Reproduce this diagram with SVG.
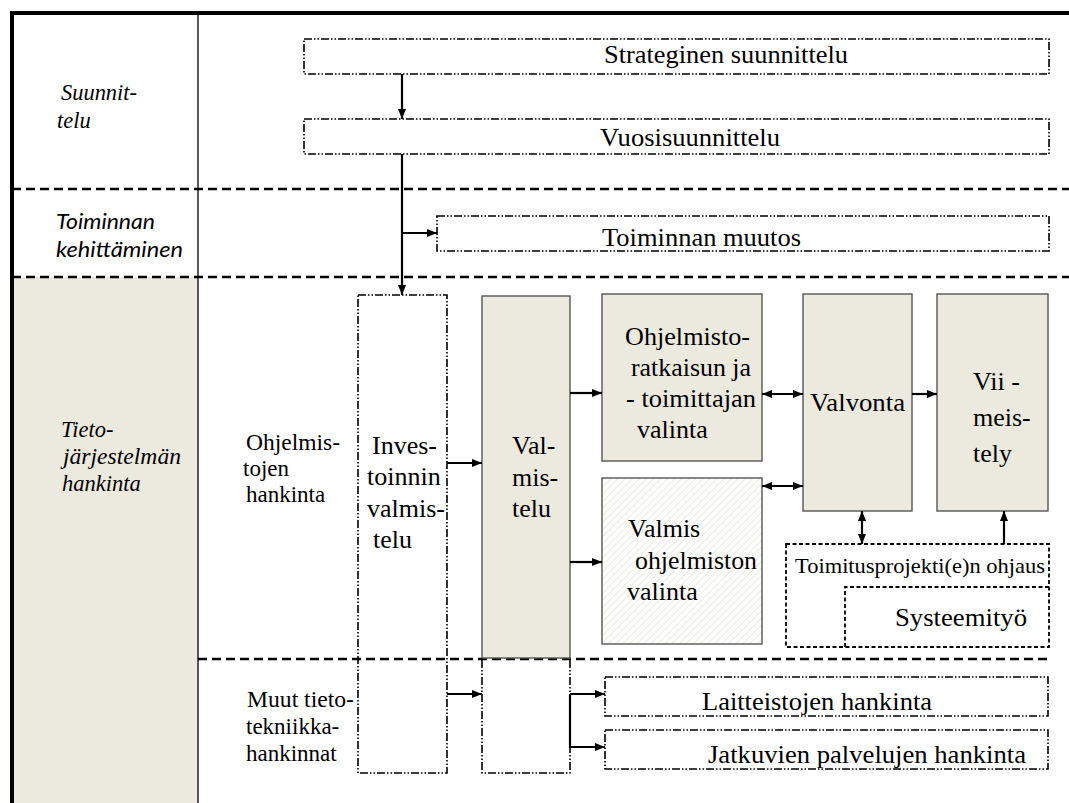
<svg xmlns="http://www.w3.org/2000/svg" width="1069" height="803" viewBox="0 0 1069 803">
<defs>
<style>
text{fill:#000}
.t{font-family:'Liberation Serif','Times New Roman',serif;font-size:26px}
.it{font-style:italic;font-size:22.5px}
.sm{font-size:23px}
.cal{font-family:Lato,'Open Sans',sans-serif;font-style:italic;font-size:21px}
.dd{fill:none;stroke:#000;stroke-width:1.6;stroke-dasharray:8 2 1.5 2 1.5 2}
.solid{fill:#ECE9DF;stroke:#555;stroke-width:1.4}
.sep{stroke:#000;stroke-width:2.5;stroke-dasharray:9 5;fill:none}
.sd{fill:none;stroke:#000;stroke-width:1.8;stroke-dasharray:4 2.5}
.arr{stroke:#000;stroke-width:2.2;fill:none;marker-end:url(#ah)}
.darr{stroke:#000;stroke-width:2.2;fill:none;marker-start:url(#ah);marker-end:url(#ah)}
</style>
<marker id="ah" viewBox="0 0 10 8" refX="10" refY="4" markerWidth="10" markerHeight="8" markerUnits="userSpaceOnUse" orient="auto-start-reverse"><path d="M0,0 L10,4 L0,8 z" fill="#000"/></marker>
<pattern id="hatch" patternUnits="userSpaceOnUse" width="5" height="5" patternTransform="rotate(45)"><line x1="0" y1="0" x2="0" y2="5" stroke="#DAD5C2" stroke-width="1"/></pattern>
</defs>

<g id="frame">
<rect x="12" y="277" width="186" height="526" fill="#ECE9DF"/>
<line x1="198" y1="13" x2="198" y2="803" stroke="#000" stroke-width="1.3"/>
<line x1="10" y1="13" x2="1069" y2="13" stroke="#000" stroke-width="4"/>
<line x1="12" y1="11" x2="12" y2="803" stroke="#000" stroke-width="4"/>
<line class="sep" x1="12" y1="189" x2="1069" y2="189"/>
<line class="sep" x1="12" y1="277" x2="1069" y2="277"/>
<line class="sep" x1="198" y1="659" x2="1048" y2="659"/>
</g>

<g id="lane-labels">
<text class="t it" x="61" y="100" textLength="76" lengthAdjust="spacingAndGlyphs">Suunnit-</text>
<text class="t it" x="57" y="128">telu</text>
<text class="cal" x="56" y="229" textLength="99" lengthAdjust="spacingAndGlyphs">Toiminnan</text>
<text class="cal" x="56" y="257" textLength="127" lengthAdjust="spacingAndGlyphs">kehittäminen</text>
<text class="t it" x="61" y="437">Tieto-</text>
<text class="t it" x="63" y="464" textLength="118" lengthAdjust="spacingAndGlyphs">järjestelmän</text>
<text class="t it" x="62" y="491">hankinta</text>
<text class="t sm" x="246" y="450" textLength="94" lengthAdjust="spacingAndGlyphs">Ohjelmis-</text>
<text class="t sm" x="243" y="476">tojen</text>
<text class="t sm" x="246" y="502">hankinta</text>
<text class="t sm" x="247" y="707" textLength="107" lengthAdjust="spacingAndGlyphs">Muut tieto-</text>
<text class="t sm" x="246" y="734">tekniikka-</text>
<text class="t sm" x="246" y="761">hankinnat</text>
</g>

<g id="strateginen">
<rect class="dd" x="304" y="39" width="745" height="35"/>
<text class="t" x="604" y="63" textLength="244" lengthAdjust="spacingAndGlyphs">Strateginen suunnittelu</text>
</g>
<g id="vuosi">
<rect class="dd" x="304" y="119" width="745" height="35"/>
<text class="t" x="600" y="146" textLength="180" lengthAdjust="spacingAndGlyphs">Vuosisuunnittelu</text>
</g>
<g id="toiminnan-muutos">
<rect class="dd" x="437" y="216" width="612" height="35"/>
<text class="t" x="602" y="246" textLength="199" lengthAdjust="spacingAndGlyphs">Toiminnan muutos</text>
</g>
<g id="investoinnin">
<rect class="dd" x="358" y="295" width="89" height="478"/>
<text class="t" x="372" y="454">Inves-</text>
<text class="t" x="367" y="485">toinnin</text>
<text class="t" x="367" y="517">valmis-</text>
<text class="t" x="373" y="548">telu</text>
</g>
<g id="valmistelu">
<rect class="solid" x="482" y="296" width="88" height="362"/>
<path class="dd" d="M482,660 V773 H570 V660"/>
<text class="t" x="512" y="454">Val-</text>
<text class="t" x="512" y="486">mis-</text>
<text class="t" x="512" y="517">telu</text>
</g>
<g id="ohjelmistoratkaisu">
<rect class="solid" x="602" y="294" width="160" height="167"/>
<text class="t" x="625" y="345" textLength="125" lengthAdjust="spacingAndGlyphs">Ohjelmisto-</text>
<text class="t" x="631" y="376" textLength="120" lengthAdjust="spacingAndGlyphs">ratkaisun ja</text>
<text class="t" x="626" y="407" textLength="130" lengthAdjust="spacingAndGlyphs">- toimittajan</text>
<text class="t" x="637" y="438">valinta</text>
</g>
<g id="valmis-ohjelmisto">
<rect x="602" y="478" width="160" height="166" fill="#fff"/>
<rect x="602" y="478" width="160" height="166" fill="url(#hatch)" stroke="#555" stroke-width="1.4"/>
<text class="t" x="628" y="537">Valmis</text>
<text class="t" x="635" y="569" textLength="122" lengthAdjust="spacingAndGlyphs">ohjelmiston</text>
<text class="t" x="627" y="600">valinta</text>
</g>
<g id="valvonta">
<rect class="solid" x="803" y="294" width="109" height="217"/>
<text class="t" x="810" y="411" textLength="95" lengthAdjust="spacingAndGlyphs">Valvonta</text>
</g>
<g id="viimeistely">
<rect class="solid" x="937" y="294" width="111" height="217"/>
<text class="t" x="973" y="390">Vii -</text>
<text class="t" x="973" y="426">meis-</text>
<text class="t" x="973" y="462">tely</text>
</g>
<g id="toimitusprojekti">
<rect class="sd" x="786" y="544" width="263" height="103"/>
<text class="t" x="795" y="573" textLength="250" lengthAdjust="spacingAndGlyphs" style="font-size:22px">Toimitusprojekti(e)n  ohjaus</text>
</g>
<g id="systeemityo">
<path class="sd" d="M845,647 V587 H1049"/>
<text class="t" x="895" y="626" textLength="132" lengthAdjust="spacingAndGlyphs">Systeemityö</text>
</g>
<g id="laitteistot">
<rect class="dd" x="605" y="677" width="443" height="39"/>
<text class="t" x="702" y="710" textLength="230" lengthAdjust="spacingAndGlyphs">Laitteistojen hankinta</text>
</g>
<g id="jatkuvat">
<rect class="dd" x="605" y="730" width="443" height="39"/>
<text class="t" x="708" y="763" textLength="318" lengthAdjust="spacingAndGlyphs">Jatkuvien palvelujen hankinta</text>
</g>

<g id="connectors">
<line class="arr" x1="402" y1="74" x2="402" y2="119"/>
<line class="arr" x1="402" y1="154" x2="402" y2="295"/>
<line class="arr" x1="402" y1="233" x2="437" y2="233"/>
<line class="arr" x1="447" y1="463" x2="482" y2="463"/>
<line class="arr" x1="570" y1="393" x2="602" y2="393"/>
<line class="arr" x1="570" y1="562" x2="602" y2="562"/>
<line class="darr" x1="762" y1="394" x2="803" y2="394"/>
<line class="darr" x1="762" y1="486" x2="803" y2="486"/>
<line class="arr" x1="912" y1="394" x2="937" y2="394"/>
<line class="darr" x1="862" y1="511" x2="862" y2="544"/>
<line class="arr" x1="1004" y1="544" x2="1004" y2="511"/>
<line class="arr" x1="447" y1="694" x2="482" y2="694"/>
<line class="arr" x1="570" y1="694" x2="605" y2="694"/>
<path class="arr" d="M570,694 V747 H605"/>
</g>
</svg>
